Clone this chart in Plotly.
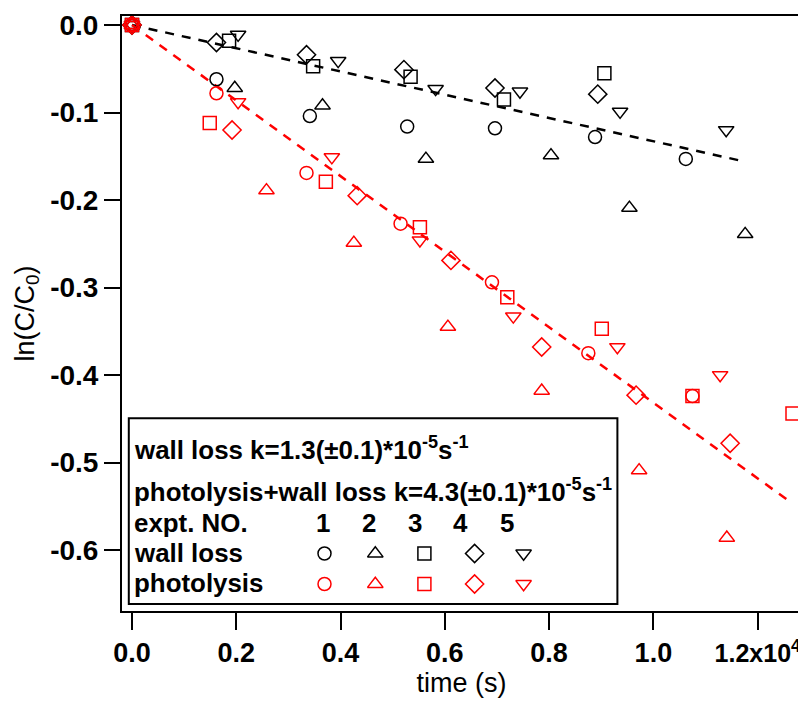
import plotly.graph_objects as go

# ---------------- data (time in s, ln(C/C0)) ----------------
wall_1_t = [0, 1620, 3411, 5278, 6962, 8881, 10622]
wall_1_v = [0, -0.062, -0.104, -0.116, -0.118, -0.128, -0.153]
wall_2_t = [0, 1971, 3654, 5637, 8036, 9540, 11760]
wall_2_v = [0, -0.072, -0.092, -0.153, -0.149, -0.209, -0.239]
wall_3_t = [0, 1862, 3474, 5343, 7134, 9060]
wall_3_v = [0, -0.018, -0.047, -0.059, -0.085, -0.055]
wall_4_t = [0, 1620, 3347, 5215, 6962, 8933]
wall_4_v = [0, -0.020, -0.034, -0.051, -0.072, -0.079]
wall_5_t = [0, 2035, 3954, 5823, 7441, 9361, 11396]
wall_5_v = [0, -0.011, -0.041, -0.073, -0.076, -0.099, -0.120]

photo_1_t = [0, 1620, 3347, 5151, 6904, 8752, 10749]
photo_1_v = [0, -0.078, -0.169, -0.227, -0.294, -0.375, -0.424]
photo_2_t = [0, 2579, 4255, 6059, 7858, 9726, 11408]
photo_2_v = [0, -0.189, -0.249, -0.345, -0.418, -0.509, -0.586]
photo_3_t = [0, 1491, 3718, 5522, 7198, 9010, 10749, 12668]
photo_3_v = [0, -0.112, -0.179, -0.231, -0.311, -0.347, -0.424, -0.444]
photo_4_t = [0, 1919, 4319, 6117, 7858, 9668, 11472]
photo_4_v = [0, -0.120, -0.195, -0.269, -0.368, -0.423, -0.478]
photo_5_t = [0, 2035, 3833, 5522, 7313, 9309, 11280]
photo_5_v = [0, -0.088, -0.151, -0.246, -0.333, -0.368, -0.400]

# linear fits
fit_wall_t = [0, 11760]
fit_wall_v = [0, -0.1562]
fit_photo_t = [0, 12660]
fit_photo_v = [0, -0.5466]

x_tickvals = [0, 2000, 4000, 6000, 8000, 10000, 12000]
x_ticktext = ["0.0", "0.2", "0.4", "0.6", "0.8", "1.0",
              "<span style='font-size:25px'>1.2x10<sup>4</sup></span>"]
y_tickvals = [0, -0.1, -0.2, -0.3, -0.4, -0.5, -0.6]
y_ticktext = ["0.0", "-0.1", "-0.2", "-0.3", "-0.4", "-0.5", "-0.6"]

expt_numbers = ["1", "2", "3", "4", "5"]
symbols = ["circle-open", "triangle-up-open", "square-open", "diamond-open", "triangle-down-open"]
sizes = [13, 13.5, 13, 14, 13.5]

FONT = "Liberation Sans, Arial, sans-serif"
RED = "#ff0000"
BLACK = "#000000"

fig = go.Figure()

# fit lines
fig.add_trace(go.Scatter(x=fit_wall_t, y=fit_wall_v, mode="lines",
                         line=dict(color=BLACK, width=2.5, dash="9px,8px"), showlegend=False))
fig.add_trace(go.Scatter(x=fit_photo_t, y=fit_photo_v, mode="lines",
                         line=dict(color=RED, width=2.5, dash="9px,8px"), showlegend=False))

wall = [(wall_1_t, wall_1_v), (wall_2_t, wall_2_v), (wall_3_t, wall_3_v),
        (wall_4_t, wall_4_v), (wall_5_t, wall_5_v)]
photo = [(photo_1_t, photo_1_v), (photo_2_t, photo_2_v), (photo_3_t, photo_3_v),
         (photo_4_t, photo_4_v), (photo_5_t, photo_5_v)]

for (t, v), s, sz in zip(wall, symbols, sizes):
    fig.add_trace(go.Scatter(x=t, y=v, mode="markers", showlegend=False,
                             marker=dict(symbol=s, size=sz, color=BLACK, line=dict(width=1.5, color=BLACK))))
for (t, v), s, sz in zip(photo, symbols, sizes):
    fig.add_trace(go.Scatter(x=t, y=v, mode="markers", showlegend=False,
                             marker=dict(symbol=s, size=sz, color=RED, line=dict(width=1.5, color=RED))))

# ---- page offset (browser body margin) ----
OFF = 8
W, H = 806 - OFF, 701 - OFF

# plot-area edges in screen pixels
L, R, T, B = 122, 801, 16, 611

# ---- custom legend (drawn on a pixel-scaled overlay axis) ----
key_x = [324.5, 375.3, 424.4, 474.6, 523.6]
num_x = [322.7, 369.0, 415.3, 460.2, 507.2]
row_wall_y = 553.5
row_photo_y = 584

for i in range(5):
    fig.add_trace(go.Scatter(x=[key_x[i]], y=[row_wall_y], xaxis="x2", yaxis="y2", mode="markers",
                             showlegend=False,
                             marker=dict(symbol=symbols[i], size=sizes[i], color=BLACK,
                                         line=dict(width=1.5, color=BLACK))))
    fig.add_trace(go.Scatter(x=[key_x[i]], y=[row_photo_y], xaxis="x2", yaxis="y2", mode="markers",
                             showlegend=False,
                             marker=dict(symbol=symbols[i], size=sizes[i], color=RED,
                                         line=dict(width=1.5, color=RED))))

fig.add_shape(type="rect", xref="x2", yref="y2", x0=128.8, x1=617.4, y0=418.3, y1=604,
              line=dict(color=BLACK, width=2), fillcolor="white", layer="below")

LEG_FONT = dict(family=FONT, size=25.9, color=BLACK)
TXT_X = 132
rows = [
    ("<b>wall loss k=1.3(±0.1)*10<sup>-5</sup>s<sup>-1</sup></b>", 448),
    ("<b>photolysis+wall loss k=4.3(±0.1)*10<sup>-5</sup>s<sup>-1</sup></b>", 490),
    ("<b>expt. NO.</b>", 522.5),
    ("<b>wall loss</b>", 553),
    ("<b>photolysis</b>", 583),
]
for txt, yy in rows:
    fig.add_annotation(x=TXT_X, y=yy, xref="x2", yref="y2", text=txt, showarrow=False,
                       xanchor="left", yanchor="middle", font=LEG_FONT)
for n, xx in zip(expt_numbers, num_x):
    fig.add_annotation(x=xx, y=522.5, xref="x2", yref="y2", text="<b>%s</b>" % n, showarrow=False,
                       xanchor="center", yanchor="middle", font=LEG_FONT)

fig.update_layout(
    width=W, height=H,
    margin=dict(l=L - OFF, r=806 - R, t=T - OFF, b=701 - B, pad=0, autoexpand=False),
    paper_bgcolor="white", plot_bgcolor="white",
    font=dict(family=FONT, color=BLACK),
    xaxis=dict(range=[-191.8, 12831], tickvals=x_tickvals, ticktext=x_ticktext, automargin=False,
               showgrid=False, zeroline=False, showline=True, linecolor=BLACK, linewidth=2,
               mirror=True, ticks="outside", ticklen=17, tickwidth=2, tickcolor=BLACK,
               ticklabelstandoff=0,
               tickfont=dict(family=FONT, size=27, color=BLACK, weight="bold"),
               title=dict(text="time (s)", font=dict(family=FONT, size=27, color=BLACK), standoff=0)),
    yaxis=dict(range=[-0.6697, 0.01029], tickvals=y_tickvals, ticktext=y_ticktext, automargin=False,
               showgrid=False, zeroline=False, showline=True, linecolor=BLACK, linewidth=2,
               mirror=True, ticks="outside", ticklen=16, tickwidth=2, tickcolor=BLACK,
               tickfont=dict(family=FONT, size=28, color=BLACK, weight="bold"),
               title=dict(text="ln(C/C<sub>0</sub>)", font=dict(family=FONT, size=27, color=BLACK),
                          standoff=8)),
    xaxis2=dict(overlaying="x", range=[L, R], visible=False, fixedrange=True),
    yaxis2=dict(overlaying="y", range=[B, T], visible=False, fixedrange=True),
)

fig.write_html("out.html")
